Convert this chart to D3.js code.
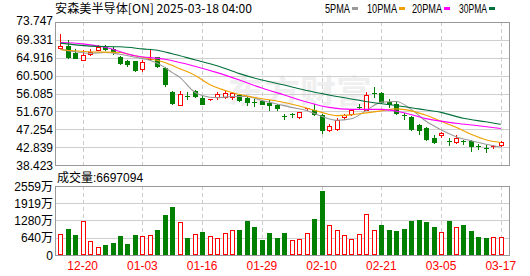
<!DOCTYPE html>
<html><head><meta charset="utf-8">
<script src="https://cdn.jsdelivr.net/npm/d3@7/dist/d3.min.js"></script>
<style>body{margin:0;background:#fff}svg{display:block}</style>
</head><body><svg id="c" width="530" height="276"></svg>
<script>
const title = "安森美半导体[ON] 2025-03-18 04:00";
const dates = ["12-17","12-18","12-19","12-20","12-23","12-24","12-26","12-27","12-30","12-31",
"01-02","01-03","01-06","01-07","01-08","01-10","01-13","01-14","01-15","01-16",
"01-17","01-21","01-22","01-23","01-24","01-27","01-28","01-29","01-30","01-31",
"02-03","02-04","02-05","02-06","02-07","02-10","02-11","02-12","02-13","02-14",
"02-18","02-19","02-20","02-21","02-24","02-25","02-26","02-27","02-28","03-03",
"03-04","03-05","03-06","03-07","03-10","03-11","03-12","03-13","03-14","03-17"];
const xLabels = ["12-20","01-03","01-16","01-29","02-10","02-21","03-05","03-17"];
const priceTicks = [73.747,69.331,64.916,60.500,56.085,51.670,47.254,42.839,38.423];
const volTicks = [2559,1919,1280,640,0];
const priorClose = 67.0;
const open = [67.30,67.86,66.07,64.25,65.90,66.80,67.45,67.05,65.16,64.00,
64.00,62.05,64.50,65.00,62.30,56.40,53.31,55.50,56.82,54.93,
54.53,55.18,55.18,55.18,55.60,54.93,54.00,54.12,53.80,53.14,
50.60,50.93,50.27,52.16,52.06,50.86,47.01,47.43,50.27,51.10,
52.80,52.08,56.09,56.26,54.04,53.56,50.76,50.27,48.24,47.57,
45.12,45.78,44.24,43.99,44.24,44.31,43.00,42.59,42.84,43.33];
const high = [70.73,69.26,67.05,66.80,67.05,68.10,68.10,67.45,65.41,64.42,
64.18,64.33,66.95,65.16,62.55,56.65,56.65,56.40,56.99,55.60,
54.80,56.40,56.65,56.45,56.01,55.35,54.78,54.53,54.37,53.56,
51.10,51.35,51.60,52.58,53.56,51.10,48.65,50.12,51.10,52.16,
53.39,56.57,57.80,56.40,54.61,53.95,51.35,50.52,48.65,47.82,
45.78,46.59,44.97,45.95,44.56,44.56,43.57,43.33,43.33,44.39];
const low = [67.30,64.74,64.90,64.25,65.50,66.80,66.80,65.83,63.27,62.78,
61.73,61.73,64.50,62.55,58.05,53.56,53.14,54.78,55.16,53.39,
54.45,54.78,55.02,54.61,54.20,53.31,52.97,53.39,51.90,51.90,
49.90,50.27,50.12,51.90,50.69,46.35,46.76,47.18,49.88,50.86,
52.33,51.90,55.18,53.80,52.73,51.10,49.88,47.01,46.03,44.55,
43.89,45.22,43.33,43.75,43.57,41.93,42.27,41.54,42.52,43.16];
const close = [67.86,64.99,64.90,65.65,66.40,67.68,67.13,66.39,63.52,63.37,
61.90,63.76,64.67,62.96,58.47,53.80,56.01,55.30,55.40,53.56,
54.74,56.01,56.20,56.30,54.37,54.05,53.95,53.56,53.14,52.48,
50.43,50.76,51.50,52.48,51.10,47.01,47.99,49.63,50.86,51.90,
52.65,55.60,55.92,53.95,53.39,51.35,50.60,47.26,47.01,44.80,
44.14,46.44,44.06,44.97,44.06,43.08,42.84,42.42,43.00,43.99];
const volume = [768,965,742,1261,519,285,371,457,705,420,
742,705,731,928,1484,1781,1224,631,779,853,
705,631,816,928,928,1261,1039,557,827,631,
827,557,594,816,1348,2385,1113,928,742,594,
779,1533,928,1113,928,890,965,1261,1298,1224,
1039,853,1261,1039,1113,890,668,631,668,669.7094];
const lastVolume = "6697094";
const ma5 = [[0,67.05],[2,66.39],[4,66.02],[6,66.22],[8,65.77],[10,65.04],[12,64.30],[14,62.54],[15,61.24],[16,60.08],[18,56.40],[19,55.60],[21,55.03],[23,55.35],[25,55.35],[27,54.37],[29,53.51],[31,52.65],[33,51.90],[35,50.44],[37,49.46],[39,49.83],[41,51.92],[43,53.95],[45,54.12],[47,52.16],[49,49.22],[51,47.13],[53,45.41],[55,44.43],[57,43.57],[59,42.84]];
const ma10 = [[0,66.88],[4,66.39],[8,66.22],[10,65.41],[12,64.67],[14,63.76],[16,62.22],[18,60.62],[20,58.29],[23,56.33],[26,55.10],[29,54.25],[32,53.02],[35,51.42],[37,50.62],[39,50.81],[41,51.30],[43,51.79],[45,52.28],[47,51.79],[49,50.69],[51,49.22],[53,47.74],[55,46.03],[57,44.68],[59,43.99]];
const ma20 = [[0,68.67],[3,68.35],[6,67.49],[10,65.41],[14,64.55],[18,62.83],[21,61.24],[24,59.40],[27,57.43],[30,55.72],[33,54.00],[36,52.65],[39,52.16],[43,52.16],[46,51.35],[49,49.88],[53,48.73],[56,48.11],[59,47.43]];
const ma30 = [[0,68.52],[4,67.79],[8,67.62],[11,67.12],[13,66.75],[15,65.90],[18,64.42],[21,62.95],[24,60.99],[27,59.40],[30,58.17],[33,56.82],[36,55.72],[39,54.74],[42,53.80],[45,53.14],[48,52.28],[51,51.42],[54,49.95],[57,49.09],[59,48.48]];
const maNames = ["5PMA","10PMA","20PMA","30PMA"];
const maColors = ["#999999","#f0a000","#ff00ff","#00703a"];

const svg = d3.select("#c");
const L = 55, R = 510, pTop = 22, pBot = 165, vTop = 186, vBot = 255;
const RED = "#ff0000", GREEN = "#008000";
const x = d3.scalePoint(dates, [60.3, 500.8]);
const yP = d3.scaleLinear([priceTicks[priceTicks.length-1], priceTicks[0]], [pBot, pTop]);
const yV = d3.scaleLinear([0, volTicks[0]], [vBot, vTop]);
const latin = "'Liberation Sans', Arial, sans-serif";
const cjk = "'Noto Sans CJK SC', sans-serif";

// watermark
svg.append("text").attr("x", 228).attr("y", 103).attr("font-family", cjk).attr("font-weight", "bold")
  .attr("font-size", 32).attr("fill", "#efefef").attr("textLength", 144).attr("lengthAdjust", "spacingAndGlyphs").text("东方财富");

// gridlines
const g = svg.append("g");
priceTicks.slice(1, -1).forEach(t => {
  g.append("line").attr("x1", L).attr("x2", R).attr("y1", Math.round(yP(t)) + 0.5).attr("y2", Math.round(yP(t)) + 0.5)
    .attr("stroke", "#cfcfcf");
});
volTicks.slice(1, -1).forEach(t => {
  g.append("line").attr("x1", L).attr("x2", R).attr("y1", Math.round(yV(t)) + 0.5).attr("y2", Math.round(yV(t)) + 0.5)
    .attr("stroke", "#cfcfcf");
});
xLabels.forEach(d => {
  const xx = Math.round(x(d)) + 0.5;
  [[pTop, pBot], [vTop, vBot]].forEach(([a, b]) => {
    g.append("line").attr("x1", xx).attr("x2", xx).attr("y1", a).attr("y2", b)
      .attr("stroke", "#cccccc").attr("stroke-dasharray", "4,3");
  });
});

// candles
const cg = svg.append("g");
dates.forEach((d, i) => {
  const cx = Math.round(x(d));
  const up = close[i] >= open[i];
  const col = up ? RED : GREEN;
  cg.append("line").attr("x1", cx + 0.5).attr("x2", cx + 0.5)
    .attr("y1", Math.round(yP(high[i]))).attr("y2", Math.round(yP(low[i])) + 1).attr("stroke", col);
  const top = Math.round(yP(Math.max(open[i], close[i])));
  const bot = Math.round(yP(Math.min(open[i], close[i])));
  const h = bot - top;
  if (h < 2) {
    cg.append("rect").attr("x", cx - 2).attr("y", top).attr("width", 5).attr("height", 1).attr("fill", col);
  } else if (up) {
    cg.append("rect").attr("x", cx - 1.5).attr("y", top + 0.5).attr("width", 4).attr("height", h)
      .attr("fill", "#fff").attr("stroke", RED);
  } else {
    cg.append("rect").attr("x", cx - 2).attr("y", top).attr("width", 5).attr("height", h + 1).attr("fill", GREEN);
  }
});

// MA lines
const line = d3.line().x(p => x(dates[p[0]])).y(p => yP(p[1])).curve(d3.curveMonotoneX);
[ma5, ma10, ma20, ma30].forEach((m, k) => {
  svg.append("path").attr("d", line(m)).attr("fill", "none").attr("stroke", maColors[k]).attr("stroke-width", 1.1);
});

// volume bars
const vg = svg.append("g");
dates.forEach((d, i) => {
  const cx = Math.round(x(d));
  const prev = i === 0 ? priorClose : close[i - 1];
  const up = close[i] >= prev;
  const top = Math.round(yV(volume[i]));
  if (up) {
    vg.append("rect").attr("x", cx - 1.5).attr("y", top + 0.5).attr("width", 4).attr("height", vBot - top - 1)
      .attr("fill", "#fff").attr("stroke", RED);
  } else {
    vg.append("rect").attr("x", cx - 2).attr("y", top).attr("width", 5).attr("height", vBot - top).attr("fill", GREEN);
  }
});

// borders
[[pTop, pBot], [vTop, vBot]].forEach(([a, b]) => {
  svg.append("rect").attr("x", L + 0.5).attr("y", a + 0.5).attr("width", R - L - 1).attr("height", b - a)
    .attr("fill", "none").attr("stroke", "#999999");
});

// y labels
priceTicks.forEach((t, k) => {
  svg.append("text").attr("x", 53).attr("y", yP(t) + 4.5 - (k === 0 ? 2 : 0)).attr("text-anchor", "end")
    .attr("font-family", latin).attr("font-size", 12).attr("fill", "#000").text(t.toFixed(3));
});
volTicks.forEach((t, k) => {
  const tx = svg.append("text").attr("x", 53).attr("y", yV(t) + 4.5 - (k === 0 ? 0 : 0)).attr("text-anchor", "end")
    .attr("font-family", latin).attr("font-size", 12).attr("fill", "#000");
  tx.append("tspan").text(String(t));
  if (t !== 0) tx.append("tspan").attr("font-family", cjk).text("万");
});

// x labels
xLabels.forEach(d => {
  svg.append("text").attr("x", x(d)).attr("y", 270).attr("text-anchor", "middle")
    .attr("font-family", latin).attr("font-size", 12).attr("fill", RED).text(d);
});

// title
svg.append("text").attr("x", 55).attr("y", 13).attr("font-family", cjk).attr("font-size", 12).attr("fill", "#000")
  .attr("textLength", 197).attr("lengthAdjust", "spacingAndGlyphs").text(title);

// legend
const legX = [325, 367, 412, 459], legW = [25, 30, 30, 28];
maNames.forEach((n, k) => {
  svg.append("text").attr("x", legX[k]).attr("y", 13).attr("font-family", latin).attr("font-size", 12).attr("fill", "#000")
    .attr("textLength", legW[k]).attr("lengthAdjust", "spacingAndGlyphs").text(n);
  svg.append("rect").attr("x", legX[k] + legW[k] + 2).attr("y", 7).attr("width", 6).attr("height", 3).attr("fill", maColors[k]);
});

// volume title
const vt = svg.append("text").attr("x", 57).attr("y", 182).attr("font-size", 12).attr("fill", "#000");
vt.append("tspan").attr("font-family", cjk).text("成交量");
vt.append("tspan").attr("font-family", latin).text(":" + lastVolume);
</script>
</body></html>
